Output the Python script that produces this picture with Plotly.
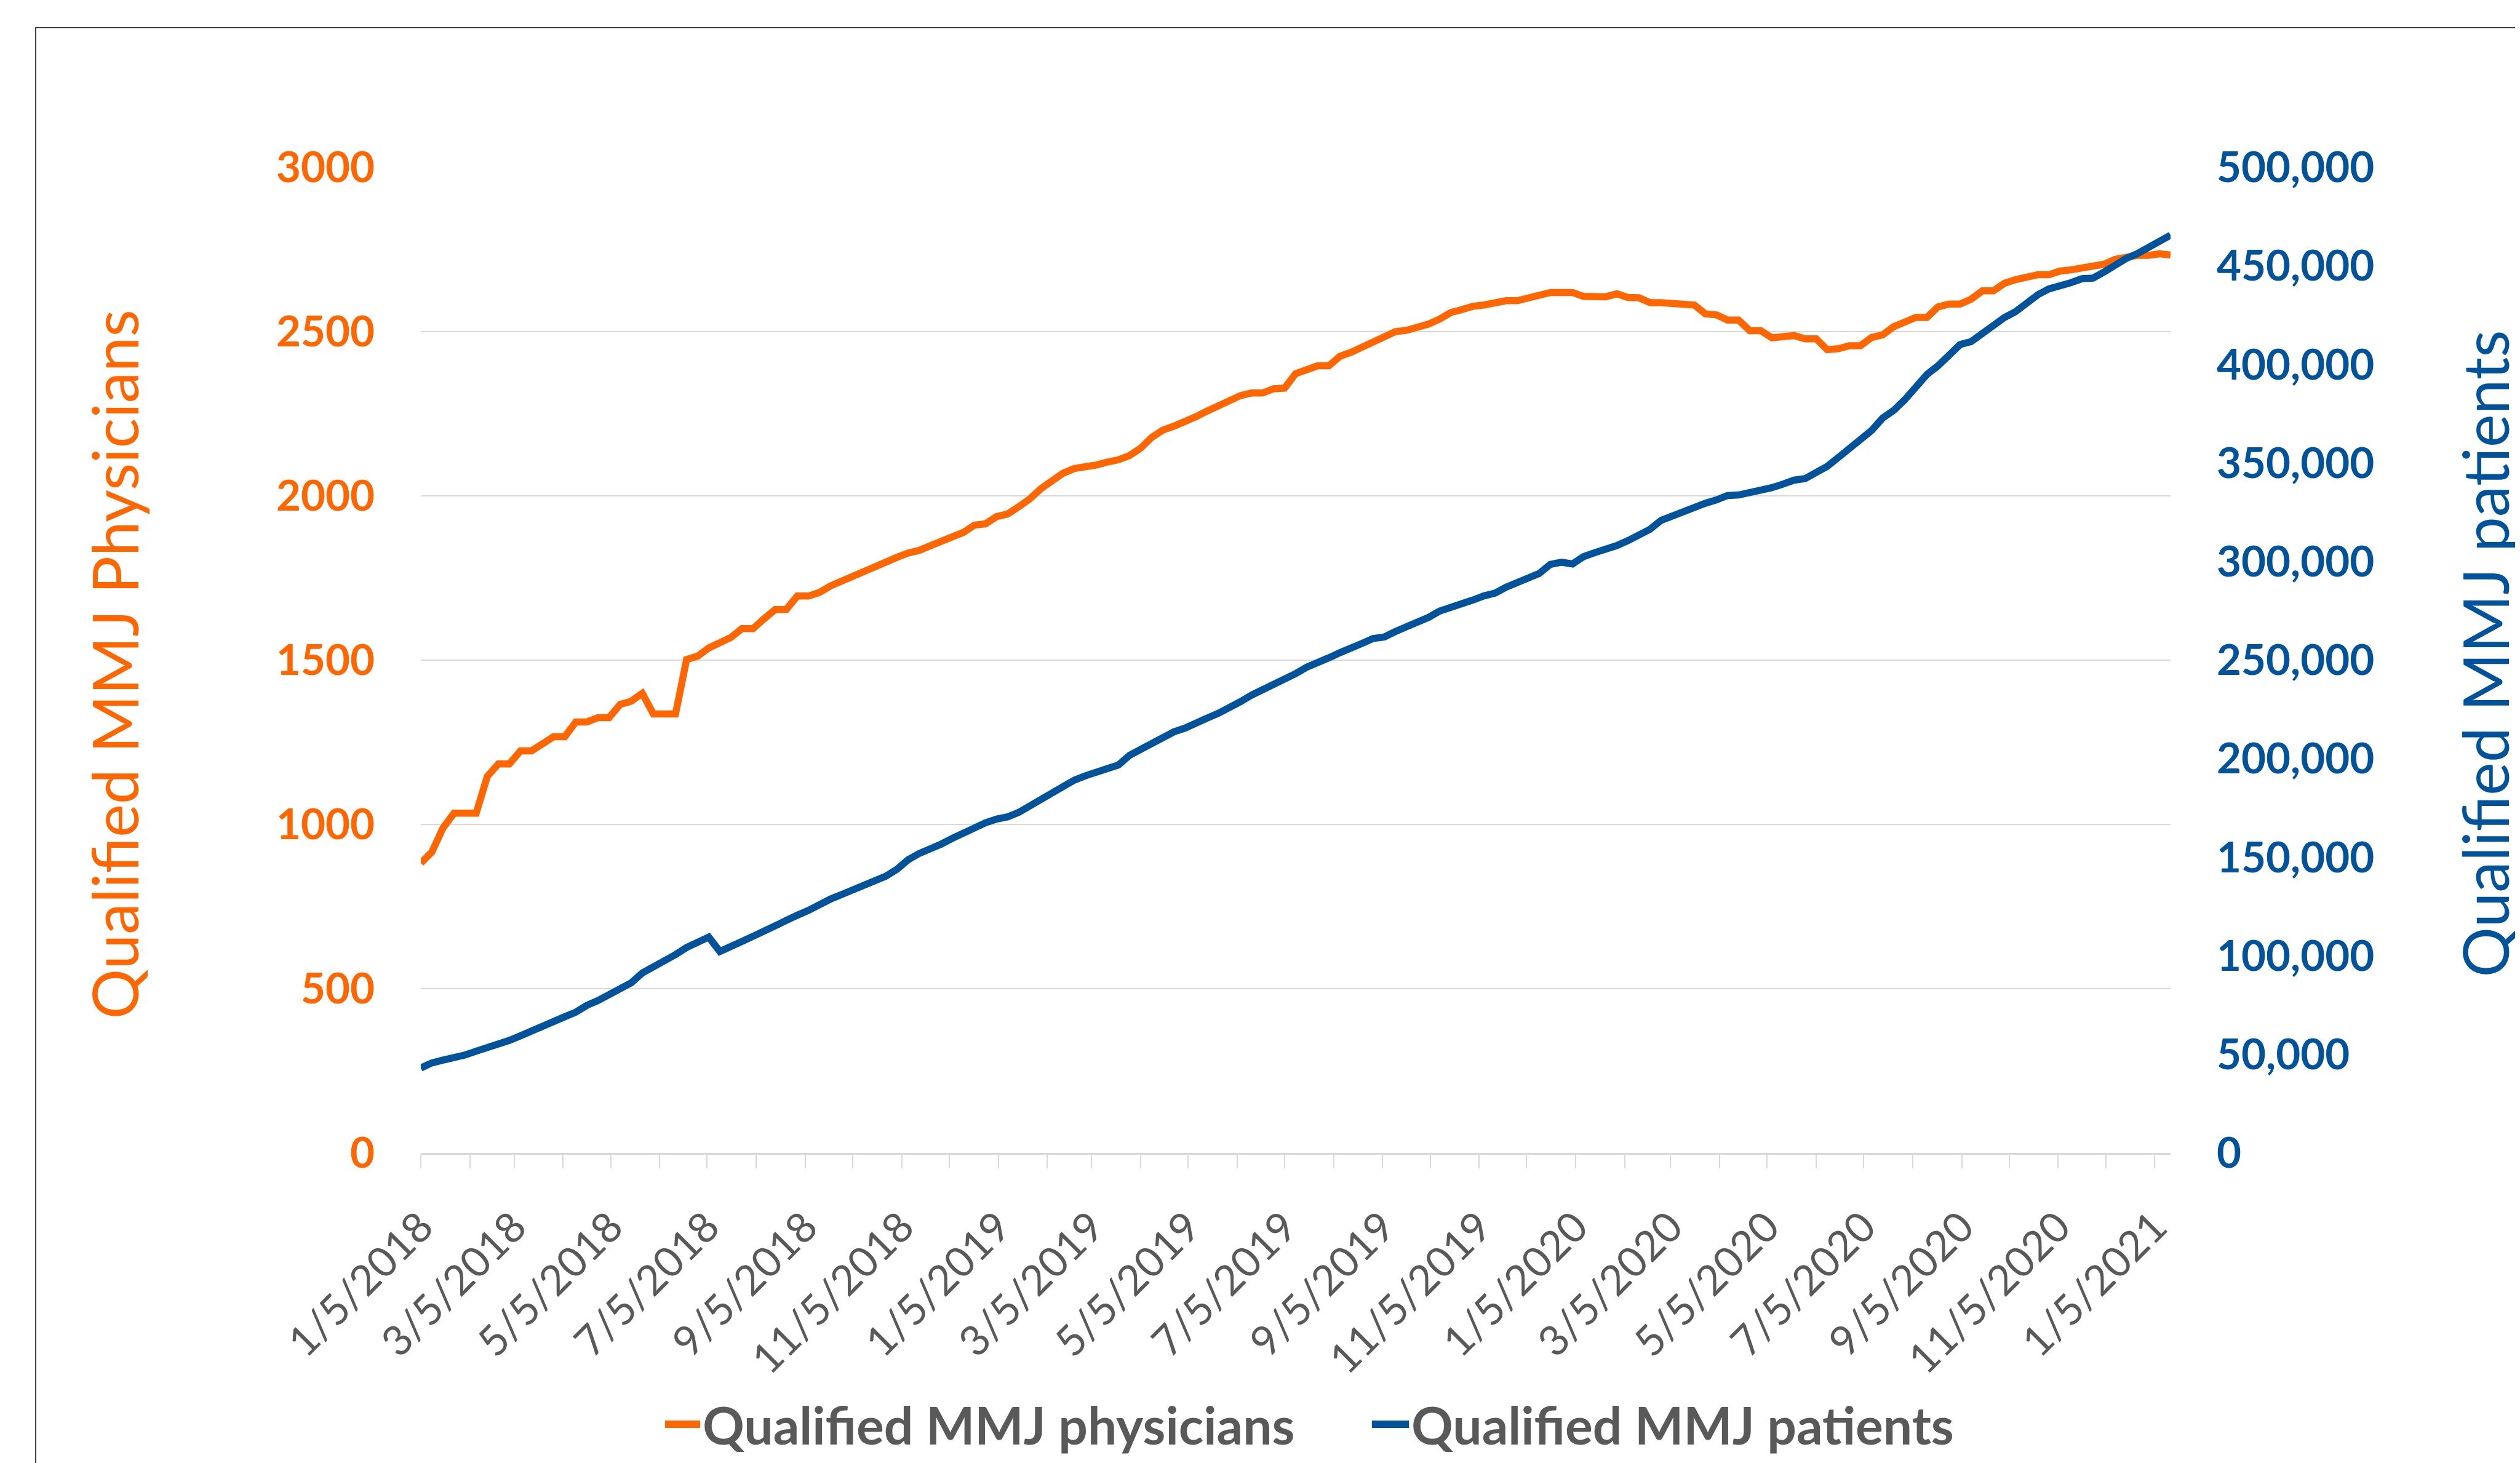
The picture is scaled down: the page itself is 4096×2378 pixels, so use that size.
import pandas as pd
import plotly.graph_objects as go

# ---------------- data (weekly, starting 1/5/2018) ----------------
START_DATE = "2018-01-05"

PHYSICIANS = [
    882, 916, 989, 1034, 1034, 1034, 1146, 1184, 1184, 1224,
    1224, 1247, 1267, 1267, 1312, 1312, 1325, 1325, 1365, 1375,
    1399, 1336, 1336, 1336, 1502, 1512, 1537, 1551, 1569, 1596,
    1596, 1626, 1654, 1654, 1695, 1695, 1706, 1726, 1741, 1753,
    1767, 1783, 1802, 1813, 1826, 1834, 1848, 1861, 1874, 1889,
    1911, 1915, 1937, 1945, 1967, 1991, 2022, 2047, 2069, 2083,
    2086, 2094, 2103, 2110, 2123, 2145, 2178, 2200, 2212, 2225,
    2241, 2258, 2272, 2288, 2305, 2313, 2313, 2326, 2328, 2372,
    2386, 2396, 2396, 2425, 2437, 2454, 2471, 2483, 2500, 2504,
    2512, 2523, 2538, 2558, 2567, 2577, 2581, 2587, 2594, 2594,
    2604, 2614, 2619, 2619, 2619, 2607, 2606, 2606, 2615, 2604,
    2603, 2588, 2588, 2585, 2581, 2581, 2554, 2551, 2535, 2535,
    2503, 2503, 2481, 2483, 2488, 2478, 2478, 2445, 2448, 2457,
    2457, 2482, 2490, 2515, 2528, 2543, 2543, 2575, 2584, 2584,
    2599, 2624, 2624, 2647, 2658, 2667, 2673, 2673, 2684, 2688,
    2695, 2699, 2705, 2720, 2727, 2732, 2732, 2737, 2733,
]

PATIENTS = [
    43100, 45700, 47100, 48200, 49700, 51600, 53400, 54800, 57100, 59400,
    61600, 64200, 66800, 69100, 71400, 74900, 77300, 80200, 82500, 86300,
    91300, 94200, 97300, 100600, 104200, 107000, 109500, 102200, 104400, 107300,
    109900, 112800, 115700, 117700, 120600, 123000, 126200, 128800, 131100, 133400,
    135300, 137300, 140400, 143900, 148700, 151900, 154000, 156700, 159600, 162500,
    165400, 167500, 169400, 170500, 172800, 176000, 180200, 183200, 186200, 189100,
    191300, 193600, 195000, 196800, 201700, 204700, 207700, 210400, 213600, 215500,
    218500, 220600, 223000, 225500, 228900, 232200, 234800, 238100, 240400, 243200,
    246400, 248500, 251200, 253800, 255800, 258500, 261000, 261700, 264500, 267000,
    268900, 271700, 274900, 276600, 278100, 280500, 282600, 284000, 287000, 289100,
    291200, 294000, 298600, 299700, 298800, 302500, 304500, 306000, 308100, 310600,
    313400, 316400, 320900, 323200, 325400, 327400, 329600, 331300, 333500, 333800,
    334800, 336500, 337500, 339300, 341300, 342100, 344800, 348300, 352800, 357000,
    361400, 366500, 372800, 376700, 382100, 389000, 394900, 399300, 405200, 410100,
    411600, 416000, 420400, 423800, 426800, 431200, 435300, 438300, 439600, 441500,
    443500, 443800, 446900, 450400, 453800, 456200, 459200, 462800, 465600,
]

TICK_LABELS = [
    "1/5/2018", "3/5/2018", "5/5/2018", "7/5/2018", "9/5/2018", "11/5/2018",
    "1/5/2019", "3/5/2019", "5/5/2019", "7/5/2019", "9/5/2019", "11/5/2019",
    "1/5/2020", "3/5/2020", "5/5/2020", "7/5/2020", "9/5/2020", "11/5/2020",
    "1/5/2021",
]
LEFT_TICKS = [0, 500, 1000, 1500, 2000, 2500, 3000]
RIGHT_TICKS = [0, 50000, 100000, 150000, 200000, 250000, 300000, 350000, 400000, 450000, 500000]

SERIES_NAMES = ["Qualified MMJ physicians", "Qualified MMJ patients"]
LEFT_TITLE = "Qualified MMJ Physicians"
RIGHT_TITLE = "Qualified MMJ patients"

# ---------------- style ----------------
ORANGE = "#FF6600"
BLUE = "#00529B"
GRAY = "#595959"
GRID = "#D9D9D9"
FONT = "Lato, 'Open Sans', sans-serif"

W, H = 4096, 2378
L, R, T, B = 676, 576, 264, 512
PW, PH = W - L - R, H - T - B


def px_x(p):
    return (p - L) / PW


def px_y(p):
    return (H - B - p) / PH


dates = pd.date_range(START_DATE, periods=len(PHYSICIANS), freq="7D")
tickvals = pd.to_datetime(TICK_LABELS, format="%m/%d/%Y")
minor_vals = pd.date_range(tickvals[0] - pd.Timedelta(days=4), tickvals[-1], freq="MS") + pd.Timedelta(days=4)

fig = go.Figure()
fig.add_trace(go.Scatter(
    x=dates, y=PHYSICIANS, name=SERIES_NAMES[0], mode="lines",
    line=dict(color=ORANGE, width=11.5), yaxis="y", showlegend=False,
))
fig.add_trace(go.Scatter(
    x=dates, y=PATIENTS, name=SERIES_NAMES[1], mode="lines",
    line=dict(color=BLUE, width=11.5), yaxis="y2", showlegend=False,
))

fig.update_layout(
    width=W, height=H,
    margin=dict(l=L, r=R, t=T, b=B, pad=0),
    paper_bgcolor="white", plot_bgcolor="white",
    font=dict(family=FONT, color=GRAY),
    xaxis=dict(
        type="date", range=[dates[0], dates[-1]],
        tickmode="array", tickvals=list(tickvals), ticktext=TICK_LABELS,
        tickangle=-45, tickfont=dict(size=68, color=GRAY, family=FONT),
        ticks="outside", ticklen=22, tickwidth=2, tickcolor=GRID,
        showline=True, linecolor=GRID, linewidth=3,
        showgrid=False, zeroline=False,
        minor=dict(tickvals=list(minor_vals), ticks="outside", ticklen=22,
                   tickwidth=2, tickcolor=GRID, showgrid=False),
        ticklabelstandoff=28,
    ),
    yaxis=dict(
        range=[0, 3000], tickmode="array", tickvals=LEFT_TICKS, tickformat="d",
        tickfont=dict(size=69, color=ORANGE, family=FONT, weight="bold"),
        showgrid=True, gridcolor=GRID, gridwidth=2,
        showline=False, zeroline=False, ticks="", ticklabelstandoff=74,
    ),
    yaxis2=dict(
        range=[0, 500000], overlaying="y", side="right",
        tickmode="array", tickvals=RIGHT_TICKS, tickformat=",d",
        tickfont=dict(size=69, color=BLUE, family=FONT, weight="bold"),
        showgrid=False, showline=False, zeroline=False, ticks="",
        ticklabelstandoff=74,
    ),
)

# axis titles
fig.add_annotation(
    text=LEFT_TITLE, textangle=-90, xref="paper", yref="paper",
    x=px_x(177), y=0.496, xanchor="center", yanchor="middle", showarrow=False,
    font=dict(size=102, color=ORANGE, family=FONT),
)
fig.add_annotation(
    text=RIGHT_TITLE, textangle=-90, xref="paper", yref="paper",
    x=px_x(4030), y=0.5066, xanchor="center", yanchor="middle", showarrow=False,
    font=dict(size=102, color=BLUE, family=FONT),
)

# legend (drawn manually)
LEG_Y = px_y(2307)
for name, color, x0, x1, xt in [
    (SERIES_NAMES[0], ORANGE, 1073, 1130, 1132),
    (SERIES_NAMES[1], BLUE, 2222, 2282, 2284),
]:
    fig.add_shape(type="line", xref="paper", yref="paper",
                  x0=px_x(x0), x1=px_x(x1), y0=LEG_Y, y1=LEG_Y,
                  line=dict(color=color, width=12))
    fig.add_annotation(
        text=name, xref="paper", yref="paper", x=px_x(xt), y=LEG_Y,
        xanchor="left", yanchor="middle", showarrow=False,
        font=dict(size=84, color=GRAY, family=FONT, weight="bold"),
    )

# outer chart frame (extends past the right and bottom edges)
fig.add_shape(type="rect", xref="paper", yref="paper",
              x0=px_x(50), x1=px_x(4500), y0=px_y(2700), y1=px_y(37),
              line=dict(color="#404040", width=2), fillcolor="rgba(0,0,0,0)",
              layer="below")

fig.write_html("out.html")
